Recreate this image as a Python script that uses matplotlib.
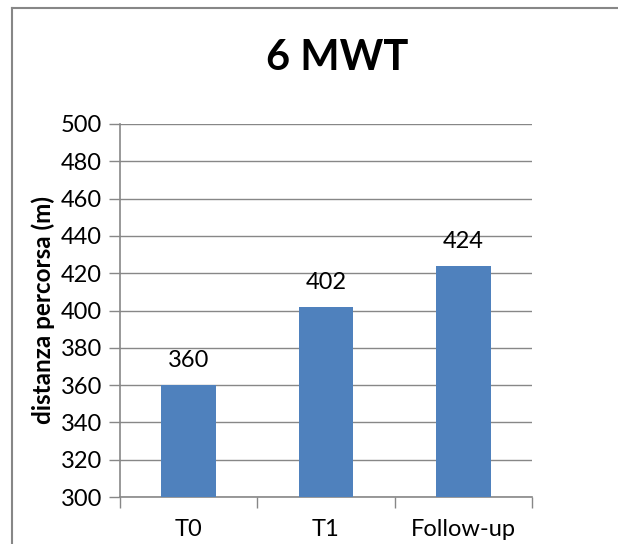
import matplotlib.pyplot as plt
from matplotlib.lines import Line2D
import numpy as np

# data
categories = ['T0', 'T1', 'Follow-up']
values = [360, 402, 424]
yticks = list(range(300, 501, 20))

plt.rcParams['font.family'] = ['Lato', 'DejaVu Sans']
grey = '#878787'

fig = plt.figure(figsize=(6.18, 5.44), dpi=100)
ax = fig.add_axes([120/618, 1-497/544, 412/618, 373/544])

x = np.arange(len(categories))
bars = ax.bar(x, values, width=0.4, color='#4F81BD', zorder=3)
for xi, v in zip(x, values):
    ax.annotate(str(v), (xi, v), xytext=(0, 10), textcoords='offset points',
                ha='center', va='bottom', fontsize=17)

ax.set_ylim(300, 500)
ax.set_xlim(-0.5, len(categories) - 0.5)
ax.set_yticks(yticks)
ax.tick_params(axis='y', labelsize=17, length=8, width=1, color=grey, pad=5)
ax.yaxis.grid(True, color=grey, lw=1, zorder=0)

# boundaries get the tick marks, centres get the labels
ax.set_xticks(np.arange(-0.5, len(categories)), [''] * (len(categories) + 1))
ax.set_xticks(x, categories, minor=True)
ax.tick_params(axis='x', which='major', length=8, width=1, color=grey)
ax.tick_params(axis='x', which='minor', length=0, labelsize=17, pad=16)

for s in ['top', 'right']:
    ax.spines[s].set_visible(False)
for s in ['left', 'bottom']:
    ax.spines[s].set_color(grey)
    ax.spines[s].set_linewidth(1.2)

ax.set_ylabel('distanza percorsa (m)', fontsize=17.5, fontweight='bold', labelpad=4)

fig.text(337/618, 1-58/544, '6 MWT', ha='center', va='center', fontsize=30,
         fontweight='bold')

# chart area border (runs off the right and bottom of the picture)
fig.add_artist(Line2D([12/618, 12/618], [0, 1-8/544], color=grey, lw=1.5))
fig.add_artist(Line2D([12/618, 1], [1-8/544, 1-8/544], color=grey, lw=1.5))

fig.savefig('out.png', dpi=100)
